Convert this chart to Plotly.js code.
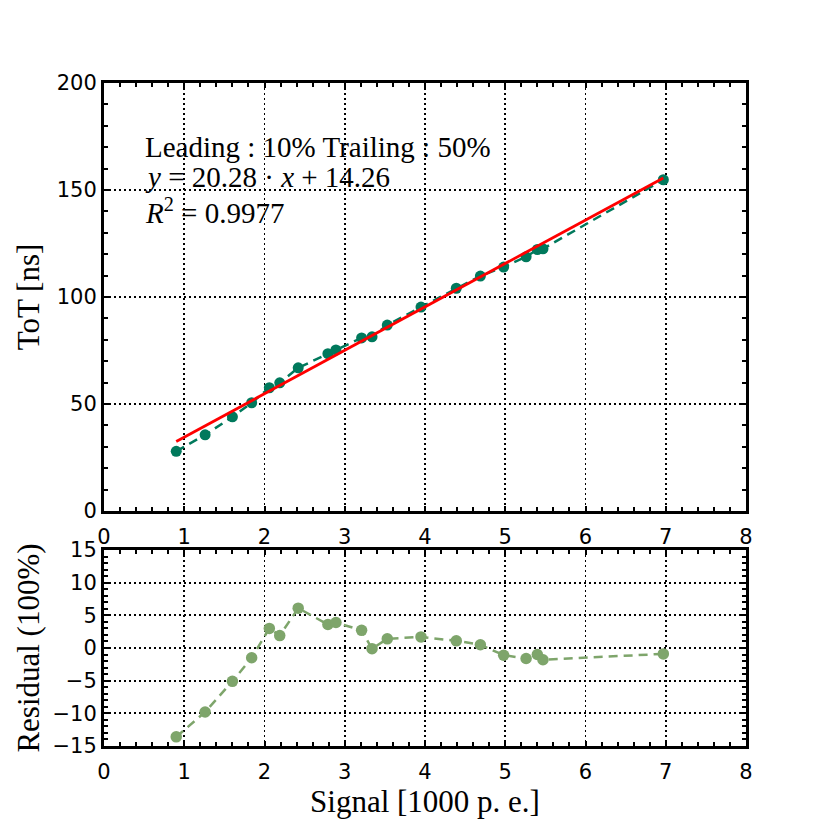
<!DOCTYPE html>
<html>
<head>
<meta charset="utf-8">
<script src="https://cdn.plot.ly/plotly-3.0.1.min.js"></script>
<style>
  body { margin: 0; background: white; }
  #chart { width: 830px; height: 830px; }
</style>
</head>
<body>
<div id="chart"></div>
<script>
// measured points (signal in 1000 p.e., ToT in ns)
var signal = [0.90, 1.26, 1.60, 1.84, 2.06, 2.19, 2.42, 2.79, 2.89, 3.21,
              3.34, 3.53, 3.95, 4.39, 4.69, 4.98, 5.26, 5.40, 5.47, 6.97];
var tot = [27.9, 35.6, 44.0, 50.6, 57.6, 59.9, 66.9, 73.5, 75.3, 80.9,
           81.4, 86.9, 95.3, 104.1, 109.8, 114.0, 118.8, 122.2, 122.5, 154.8];
// residual in percent
var residual = [-13.6, -9.8, -5.1, -1.5, 3.0, 1.9, 6.1, 3.6, 3.9, 2.7,
                -0.1, 1.4, 1.7, 1.1, 0.5, -1.1, -1.6, -1.0, -1.8, -0.9];
// linear fit y = 20.28 x + 14.26, drawn between first and last point
var fitX = [0.90, 6.97];
var fitY = [32.51, 155.61];

var dark = '#00795c', light = '#7ea56b';

var data = [
    {
        x: signal, y: tot, mode: 'lines+markers',
        line: {color: dark, width: 2.5, dash: '9px,6px'},
        marker: {color: dark, size: 11},
        xaxis: 'x', yaxis: 'y'
    },
    {
        x: fitX, y: fitY, mode: 'lines',
        line: {color: '#ff0000', width: 2.8},
        xaxis: 'x', yaxis: 'y'
    },
    {
        x: signal, y: residual, mode: 'lines+markers',
        line: {color: light, width: 2.5, dash: '9px,6px'},
        marker: {color: light, size: 11.5},
        xaxis: 'x2', yaxis: 'y2'
    }
];

var tickFont = {family: 'DejaVu Sans', size: 21, color: 'black'};
var titleFont = {family: 'Liberation Serif', size: 31, color: 'black'};
var noteFont = {family: 'Liberation Serif', size: 29, color: 'black'};

function axis(extra) {
    var a = {
        showline: true, linewidth: 3, linecolor: 'black', mirror: 'allticks',
        ticks: 'inside', ticklen: 5, tickwidth: 2, tickcolor: 'black',
        showgrid: true, gridcolor: 'black', gridwidth: 1.8, griddash: '2px,3px',
        zeroline: false, tickfont: tickFont, fixedrange: true
    };
    for (var k in extra) a[k] = extra[k];
    return a;
}

var layout = {
    width: 830, height: 830,
    showlegend: false,
    paper_bgcolor: 'white', plot_bgcolor: 'white',
    margin: {l: 104, r: 84, t: 83, b: 84},
    xaxis: axis({
        range: [0, 8], dtick: 1, domain: [0, 1], anchor: 'y', ticklabelstandoff: 5,
        minor: {dtick: 0.2, ticks: 'inside', ticklen: 4, tickwidth: 2, tickcolor: 'black', showgrid: false}
    }),
    yaxis: axis({
        range: [0, 200], dtick: 50, domain: [0.3544, 1], anchor: 'x',
        title: {text: 'ToT [ns]', font: titleFont, standoff: 8},
        minor: {dtick: 10, ticks: 'inside', ticklen: 4, tickwidth: 2, tickcolor: 'black', showgrid: false}
    }),
    xaxis2: axis({
        range: [0, 8], dtick: 1, domain: [0, 1], anchor: 'y2', ticklabelstandoff: 5,
        title: {text: 'Signal [1000 p. e.]', font: titleFont, standoff: 2},
        minor: {dtick: 0.2, ticks: 'inside', ticklen: 4, tickwidth: 2, tickcolor: 'black', showgrid: false}
    }),
    yaxis2: axis({
        range: [-15, 15], dtick: 5, domain: [0, 0.2956], anchor: 'x2',
        title: {text: 'Residual (100%)', font: titleFont, standoff: 4},
        minor: {dtick: 1, ticks: 'inside', ticklen: 4, tickwidth: 2, tickcolor: 'black', showgrid: false}
    }),
    annotations: [
        {x: 0.48, y: 170, xref: 'x', yref: 'y', xanchor: 'left', yanchor: 'middle', showarrow: false,
         text: 'Leading : 10% Trailing : 50%', font: noteFont},
        {x: 0.48, y: 156, xref: 'x', yref: 'y', xanchor: 'left', yanchor: 'middle', showarrow: false,
         text: '<i>y</i> = 20.28 · <i>x</i> + 14.26', font: noteFont},
        {x: 0.48, y: 140, xref: 'x', yref: 'y', xanchor: 'left', yanchor: 'middle', showarrow: false,
         text: '<i>R</i><sup>2</sup> = 0.9977', font: noteFont}
    ]
};

Plotly.newPlot('chart', data, layout, {displayModeBar: false, staticPlot: true});
</script>
</body>
</html>
